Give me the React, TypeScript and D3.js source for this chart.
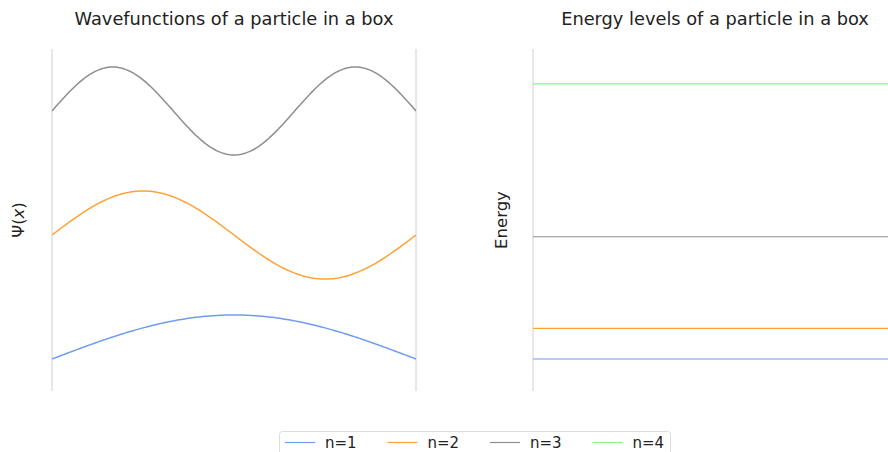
import React from "react";
import * as d3 from "d3";

const W = 888;
const H = 452;

// Quantum numbers and their colors
const levels = [1, 2, 3, 4];
const levelColors = ["#6f9cf0", "#ffa233", "#8e8e8e", "#90ee90"];

// Wavefunction drawing: vertical offsets and amplitude per level
const waveOffsets = [0, 1, 2, 3];
const waveAmplitude = 0.355;

// Energy values per level (arbitrary units)
const energies = [0, 1, 4, 9];

const xSamples = d3.range(0, 1.0001, 0.005);

const leftBox = { x0: 52, x1: 416, y0: 49, y1: 391 };
const rightBox = { x0: 533, x1: 897, y0: 49, y1: 391 };

export default function App() {
  const xL = d3.scaleLinear().domain([0, 1]).range([leftBox.x0, leftBox.x1]);
  const yL = d3.scaleLinear().domain([-0.258, 2.5]).range([leftBox.y1, leftBox.y0]);
  const xR = d3.scaleLinear().domain([0, 1]).range([rightBox.x0, rightBox.x1]);
  const yR = d3.scaleLinear().domain([-1.047, 10.14]).range([rightBox.y1, rightBox.y0]);

  const line = d3
    .line<[number, number]>()
    .x((d) => xL(d[0]))
    .y((d) => yL(d[1]));

  const font = "DejaVu Sans, sans-serif";

  return (
    <div style={{ position: "absolute", left: 0, top: 0 }}>
      <svg width={W} height={H} style={{ display: "block" }}>
        <defs>
          <clipPath id="clipL">
            <rect x={leftBox.x0} y={leftBox.y0} width={leftBox.x1 - leftBox.x0} height={leftBox.y1 - leftBox.y0} />
          </clipPath>
        </defs>
        <rect width={W} height={H} fill="#fff" />

        {/* Left panel: wavefunctions */}
        <line x1={leftBox.x0} x2={leftBox.x0} y1={leftBox.y0} y2={leftBox.y1} stroke="#d0d0d0" strokeWidth={1} />
        <line x1={leftBox.x1} x2={leftBox.x1} y1={leftBox.y0} y2={leftBox.y1} stroke="#d0d0d0" strokeWidth={1} />
        <g clipPath="url(#clipL)">
          {levels.map((n, i) => (
            <path
              key={n}
              d={line(xSamples.map((x) => [x, waveOffsets[i] + waveAmplitude * Math.sin(n * Math.PI * x)]) as [number, number][]) || ""}
              fill="none"
              stroke={levelColors[i]}
              strokeWidth={1.5}
            />
          ))}
        </g>
        <text x={234} y={25} textAnchor="middle" fontFamily={font} fontSize={17.8} fill="#222">
          Wavefunctions of a particle in a box
        </text>
        <text transform="translate(24,220) rotate(-90)" textAnchor="middle" fontFamily={font} fontSize={16.5} fill="#222">
          Ψ(<tspan fontStyle="italic">x</tspan>)
        </text>

        {/* Right panel: energy levels */}
        <line x1={rightBox.x0} x2={rightBox.x0} y1={rightBox.y0} y2={rightBox.y1} stroke="#d0d0d0" strokeWidth={1} />
        {levels.map((n, i) => (
          <line
            key={n}
            x1={xR(0)}
            x2={xR(1)}
            y1={yR(energies[i])}
            y2={yR(energies[i])}
            stroke={levelColors[i]}
            strokeWidth={1.1}
          />
        ))}
        <text x={715} y={25} textAnchor="middle" fontFamily={font} fontSize={17.8} fill="#222">
          Energy levels of a particle in a box
        </text>
        <text transform="translate(507,220) rotate(-90)" textAnchor="middle" fontFamily={font} fontSize={16.5} fill="#222">
          Energy
        </text>

        {/* Legend */}
        <rect x={279.5} y={431.5} width={391} height={30} rx={3} fill="#fff" stroke="#dcdcdc" />
        {levels.map((n, i) => {
          const lx = 285 + i * 102.5;
          return (
            <g key={n}>
              <line x1={lx} x2={lx + 30} y1={442.5} y2={442.5} stroke={levelColors[i]} strokeWidth={1.2} />
              <text x={lx + 40} y={448} fontFamily={font} fontSize={15} fill="#222">
                {`n=${n}`}
              </text>
            </g>
          );
        })}
      </svg>
    </div>
  );
}
